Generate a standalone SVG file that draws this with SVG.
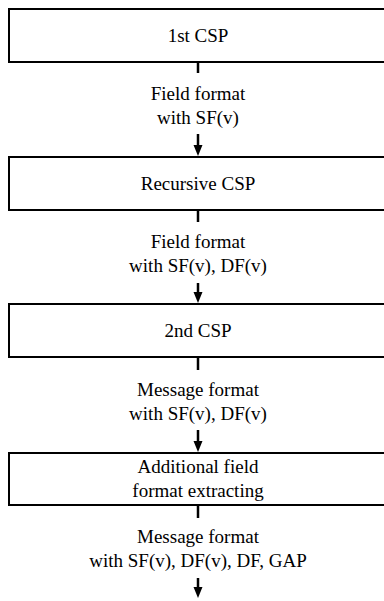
<svg xmlns="http://www.w3.org/2000/svg" width="384" height="601" viewBox="0 0 384 601">
<style>
.box{fill:#fff;stroke:#000;stroke-width:2}
.t{font-family:"Liberation Serif","Times New Roman",serif;font-size:19px;fill:#000;text-anchor:middle}
.c{stroke:#000;stroke-width:2.5;fill:none}
</style>
<defs>
<marker id="ah" markerUnits="userSpaceOnUse" markerWidth="10" markerHeight="11" refX="5" refY="10" orient="auto-start-reverse" viewBox="0 0 10 11">
<path d="M0,0 L10,0 L5,10 Z" fill="#000" transform="rotate(0)"/>
</marker>
</defs>
<rect width="384" height="601" fill="#fff"/>
<g id="n1"><rect class="box" x="9" y="9" width="380" height="53"/><text class="t" x="198" y="42">1st CSP</text></g>
<g id="n2"><rect class="box" x="9" y="157" width="380" height="53"/><text class="t" x="198" y="190">Recursive CSP</text></g>
<g id="n3"><rect class="box" x="9" y="304" width="380" height="53"/><text class="t" x="198" y="337">2nd CSP</text></g>
<g id="n4"><rect class="box" x="9" y="453" width="380" height="52"/><text class="t" x="198" y="473">Additional field</text><text class="t" x="198" y="497">format extracting</text></g>
<g id="connectors">
<line class="c" x1="198" y1="63" x2="198" y2="73"/>
<text class="t" x="198" y="100">Field format</text><text class="t" x="198" y="124">with SF(v)</text>
<path d="M198,134 V146" class="c"/><path d="M193.5,145 L202.5,145 L198,156 Z"/>
<line class="c" x1="198" y1="211" x2="198" y2="222"/>
<text class="t" x="198" y="248">Field format</text><text class="t" x="198" y="272">with SF(v), DF(v)</text>
<path d="M198,283 V293" class="c"/><path d="M193.5,292 L202.5,292 L198,303 Z"/>
<line class="c" x1="198" y1="358" x2="198" y2="370"/>
<text class="t" x="198" y="396">Message format</text><text class="t" x="198" y="420">with SF(v), DF(v)</text>
<path d="M198,430 V442" class="c"/><path d="M193.5,441 L202.5,441 L198,452 Z"/>
<line class="c" x1="198" y1="506" x2="198" y2="518"/>
<text class="t" x="198" y="543">Message format</text><text class="t" x="198" y="567">with SF(v), DF(v), DF, GAP</text>
<path d="M198,578 V588" class="c"/><path d="M193.5,587 L202.5,587 L198,598 Z"/>
</g>
</svg>
